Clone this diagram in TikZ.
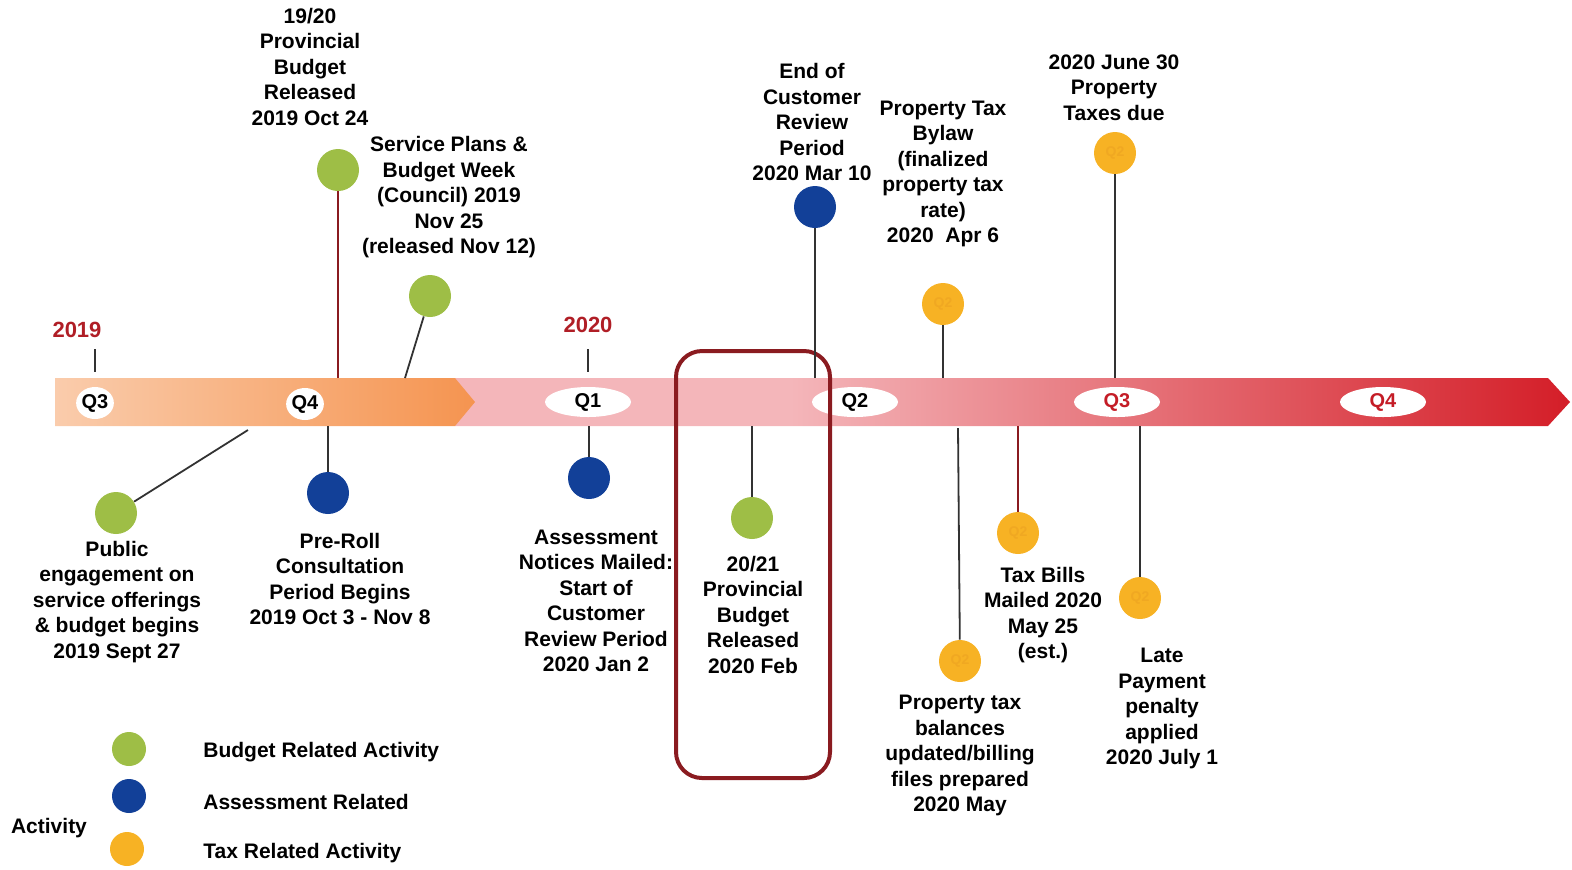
\documentclass[tikz,border=0pt]{standalone}
\usepackage{fontspec}
\setmainfont{Liberation Sans}
\usetikzlibrary{shapes.geometric,positioning}
\definecolor{budgetgreen}{RGB}{158,190,70}
\definecolor{assessblue}{RGB}{18,64,152}
\definecolor{taxorange}{RGB}{247,178,36}
\definecolor{taxtext}{RGB}{240,168,34}
\definecolor{yearred}{RGB}{176,30,38}
\definecolor{boxred}{RGB}{138,27,32}
\definecolor{stemgray}{RGB}{50,50,50}
\definecolor{peach}{RGB}{250,204,172}
\definecolor{bandorange}{RGB}{245,148,80}
\definecolor{bandpink}{RGB}{244,182,186}
\definecolor{bandred}{RGB}{212,30,40}
\definecolor{qred}{RGB}{196,28,38}
\pgfdeclarehorizontalshading{pinkred}{100bp}{color(0bp)=(bandpink); color(25bp)=(bandpink); color(40bp)=(bandpink); color(75bp)=(bandred); color(100bp)=(bandred)}
\tikzset{
    txt/.style={
        font=\bfseries\fontsize{10.5}{12.75}\selectfont,
        align=center, inner sep=0pt
    },
    dot/.style={
        circle, minimum size=21pt, inner sep=0pt
    },
    budget/.style={dot, fill=budgetgreen},
    assess/.style={dot, fill=assessblue},
    tax/.style={dot, fill=taxorange, text=taxtext,
        font=\bfseries\fontsize{7}{8}\selectfont},
    keydot/.style={circle, minimum size=17pt, inner sep=0pt},
    stem/.style={draw=stemgray, line width=0.9pt},
    redstem/.style={draw=boxred, line width=0.9pt},
    qmark/.style={
        ellipse, fill=white, minimum width=43pt, minimum height=15pt,
        inner sep=0pt, font=\bfseries\fontsize{10}{10}\selectfont
    },
    qdot/.style={qmark, minimum width=16pt, minimum height=16pt},
    year/.style={
        font=\bfseries\fontsize{11}{12}\selectfont, text=yearred, inner sep=0pt
    }
}
\begin{document}
\begin{tikzpicture}[x=0.5pt,y=-0.5pt]
\useasboundingbox (0,0) rectangle (1572,869);
\coordinate (bandtop) at (0,378);
\coordinate (bandbot) at (0,426);

% timeline band
\shade[shading=pinkred] (455,378) -- (1548,378) -- (1570,402) -- (1548,426)
    -- (455,426) -- cycle;
\shade[left color=peach, right color=bandorange] (55,378) -- (455,378)
    -- (475,402) -- (455,426) -- (55,426) -- cycle;

% quarters
\node[qdot] (q3a) at (95,403) {Q3};
\node[qdot] (q4a) at (305,404) {Q4};
\node[qmark] (q1) at (588,402) {Q1};
\node[qmark] (q2) at (855,402) {Q2};
\node[qmark, text=qred] (q3b) at (1117,402) {Q3};
\node[qmark, text=qred] (q4b) at (1383,402) {Q4};

% years
\node[year] (y2019) at (77,330) {2019};
\node[year] (y2020) at (588,325) {2020};
\draw[stem] (95,349) coordinate (t19) -- (95,372);
\draw[stem] (588,349) coordinate (t20) -- (588,372);

% highlight box
\draw[boxred, line width=2pt, rounded corners=13pt] (676,351) rectangle (830,778);

% events above the band
\node[budget] (provbud) at (338,170) {};
\draw[redstem] (provbud) -- (provbud |- bandtop);
\node[txt] (provbudtxt) at (310,66.5) {19/20\\Provincial\\Budget\\Released\\2019 Oct 24};

\node[budget] (budweek) at (430,296) {};
\coordinate (budweekend) at (405,378);
\draw[stem] (budweek) -- (budweekend);
\node[txt] (budweektxt) at (449,197.5) {Service Plans \&\\Budget Week\\(Council) 2019\\Nov 25\\(released Nov 12)};

\node[assess] (revend) at (815,207) {};
\draw[stem] (revend) -- (revend |- bandtop);
\node[txt] (revendtxt) at (812,122) {End of\\Customer\\Review\\Period\\2020 Mar 10};

\node[tax] (bylaw) at (943,304) {Q2};
\draw[stem] (bylaw) -- (bylaw |- bandtop);
\node[txt] (bylawtxt) at (943,174) {Property Tax\\Bylaw\\(finalized\\property tax\\rate)\\2020\ \ Apr 6};

\node[tax] (taxdue) at (1115,153) {Q2};
\draw[stem] (taxdue) -- (taxdue |- bandtop);
\node[txt] (taxduetxt) at (1114,87.5) {2020 June 30\\Property\\Taxes due};

% events below the band
\node[budget] (engage) at (116,513) {};
\coordinate (engagestart) at (248,430);
\draw[stem] (engagestart) -- (engage);
\node[txt] (engagetxt) at (117,602) {Public\\engagement on\\service offerings\\\& budget begins\\2019 Sept 27};

\node[assess] (preroll) at (328,493) {};
\draw[stem] (preroll |- bandbot) -- (preroll);
\node[txt] (prerolltxt) at (340,579) {Pre-Roll\\Consultation\\Period Begins\\2019 Oct 3 - Nov 8};

\node[assess] (notices) at (589,478) {};
\draw[stem] (notices |- bandbot) -- (notices);
\node[txt] (noticestxt) at (596,601) {Assessment\\Notices Mailed:\\Start of\\Customer\\Review Period\\2020 Jan 2};

\node[budget] (provbudb) at (752,518) {};
\draw[stem] (provbudb |- bandbot) -- (provbudb);
\node[txt] (provbudbtxt) at (753,614.5) {20/21\\Provincial\\Budget\\Released\\2020 Feb};

\node[tax] (balances) at (960,661) {Q2};
\coordinate (balancestart) at (958,428);
\draw[stem] (balancestart) -- (balances);
\node[txt] (balancestxt) at (960,755.5) {Property tax\\balances\\updated/billing\\files prepared\\2020 May};

\node[tax] (bills) at (1018,533) {Q2};
\draw[redstem] (bills |- bandbot) -- (bills);
\node[txt] (billstxt) at (1043,615) {Tax Bills\\Mailed 2020\\May 25\\(est.)};

\node[tax] (penalty) at (1140,598) {Q2};
\draw[stem] (penalty |- bandbot) -- (penalty);
\node[txt] (penaltytxt) at (1162,708.5) {Late\\Payment\\penalty\\applied\\2020 July 1};

% legend
\node[txt] (keytitle) at (49,828) {Activity};
\node[keydot, fill=budgetgreen] (keybud) at (129,749) {};
\node[keydot, fill=assessblue] (keyass) at (129,796) {};
\node[keydot, fill=taxorange] (keytax) at (127,849) {};
\node[txt, anchor=west] (keybudtxt) at (203,752) {Budget Related Activity};
\node[txt, anchor=west] (keyasstxt) at (203,802) {Assessment Related};
\node[txt, anchor=west] (keytaxtxt) at (203,853) {Tax Related Activity};
\end{tikzpicture}
\end{document}
